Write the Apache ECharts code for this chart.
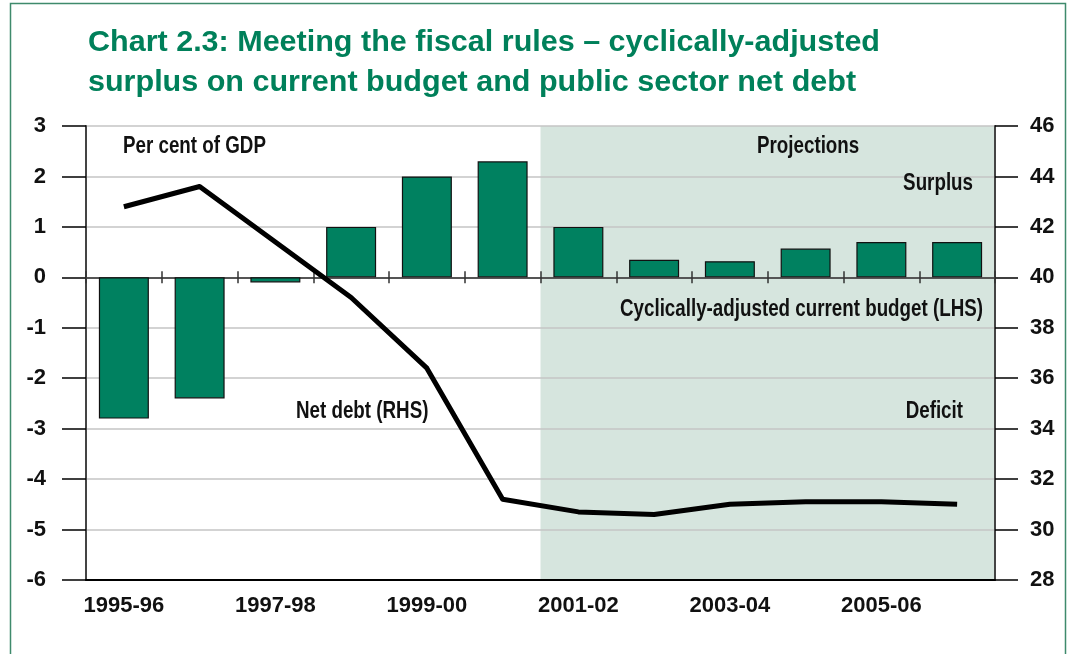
<!DOCTYPE html>
<html>
<head>
<meta charset="utf-8">
<script src="https://cdn.jsdelivr.net/npm/echarts@6/dist/echarts.min.js"></script>
<style>
  html, body { margin: 0; padding: 0; background: #ffffff; }
  #chart { width: 1073px; height: 654px; }
</style>
</head>
<body>
<div id="chart"></div>
<script>
// Fiscal years shown on the category axis
const years = ['1995-96', '1996-97', '1997-98', '1998-99', '1999-00', '2000-01',
               '2001-02', '2002-03', '2003-04', '2004-05', '2005-06', '2006-07'];

// Cyclically-adjusted surplus on current budget, per cent of GDP (left axis)
const currentBudget = [-2.8, -2.4, -0.1, 1.0, 2.0, 2.3, 1.0, 0.35, 0.32, 0.57, 0.7, 0.7];

// Public sector net debt, per cent of GDP (right axis)
const netDebt = [42.8, 43.6, 41.4, 39.2, 36.4, 31.2, 30.7, 30.6, 31.0, 31.1, 31.1, 31.0];

// Axis tick values
const lhsTicks = [-6, -5, -4, -3, -2, -1, 0, 1, 2, 3];
const rhsTicks = [28, 30, 32, 34, 36, 38, 40, 42, 44, 46];

// First year of the projection period (shaded)
const projectionStart = '2001-02';

const FONT = '"Liberation Sans", Arial, sans-serif';
const GREEN = '#00805a';
const INK = '#111111';

const TITLE_FONT = 'bold 30px ' + FONT;
const NOTE_FONT = 'bold 23px ' + FONT;
const titleLines = [
  'Chart 2.3: Meeting the fiscal rules \u2013 cyclically-adjusted',
  'surplus on current budget and public sector net debt'
];

// The headings are set in a condensed face; squeeze the regular face horizontally to suit.
const measureCtx = document.createElement('canvas').getContext('2d');
function textWidth(text, font) {
  measureCtx.font = font;
  return measureCtx.measureText(text).width;
}
const titleSqueeze = 792 / textWidth(titleLines[0], TITLE_FONT);
const noteSqueeze = 363 / textWidth('Cyclically-adjusted current budget (LHS)', NOTE_FONT);

const chart = echarts.init(document.getElementById('chart'), null, { renderer: 'canvas' });

const startIdx = years.indexOf(projectionStart);

function label(text, x, y, font, fill, squeeze, align) {
  return {
    type: 'text',
    silent: true,
    z: 50,
    x: x,
    y: y,
    scaleX: squeeze,
    style: {
      x: 0, y: 0,
      text: text,
      font: font,
      fill: fill,
      textAlign: align || 'left',
      textVerticalAlign: 'middle'
    }
  };
}

function note(text, x, y, align) {
  return label(text, x, y, NOTE_FONT, INK, noteSqueeze, align);
}

const zeroAxisBase = {
  type: 'category',
  data: years,
  position: 'bottom',
  boundaryGap: true,
  axisLine: { show: true, onZero: true, onZeroAxisIndex: 0, lineStyle: { color: '#555555', width: 2 } },
  axisLabel: { show: false },
  splitLine: { show: false }
};

const option = {
  backgroundColor: '#ffffff',
  animation: false,
  textStyle: { fontFamily: FONT },
  grid: { left: 86, right: 78, top: 126, bottom: 74, containLabel: false },
  xAxis: [
    {
      type: 'category',
      data: years,
      position: 'bottom',
      boundaryGap: true,
      axisLine: { show: true, onZero: false, lineStyle: { color: '#000000', width: 2 } },
      axisTick: { show: false },
      axisLabel: {
        interval: 1,
        color: INK,
        fontFamily: FONT,
        fontSize: 22,
        fontWeight: 'bold',
        margin: 15
      },
      splitLine: { show: false }
    },
    Object.assign({}, zeroAxisBase, {
      axisTick: { show: true, interval: 0, inside: false, length: 6, lineStyle: { color: '#333333', width: 1.5 } }
    }),
    Object.assign({}, zeroAxisBase, {
      axisTick: { show: true, interval: 0, inside: true, length: 6, lineStyle: { color: '#333333', width: 1.5 } }
    }),
    {
      // plain index scale spanning the category bands, used for the projection shading
      type: 'value',
      show: false,
      min: 0,
      max: years.length
    }
  ],
  yAxis: [
    {
      type: 'value',
      position: 'left',
      min: lhsTicks[0],
      max: lhsTicks[lhsTicks.length - 1],
      interval: lhsTicks[1] - lhsTicks[0],
      axisLine: { show: true, lineStyle: { color: '#444444', width: 2 } },
      axisTick: { show: true, length: 24, lineStyle: { color: '#000000', width: 1.5 } },
      axisLabel: { color: INK, fontFamily: FONT, fontSize: 22, fontWeight: 'bold', margin: 40 },
      splitLine: { show: true, lineStyle: { color: '#c4c4c4', width: 1.5 } }
    },
    {
      type: 'value',
      position: 'right',
      min: rhsTicks[0],
      max: rhsTicks[rhsTicks.length - 1],
      interval: rhsTicks[1] - rhsTicks[0],
      axisLine: { show: true, lineStyle: { color: '#444444', width: 2 } },
      axisTick: { show: true, length: 23, lineStyle: { color: '#000000', width: 1.5 } },
      axisLabel: { color: INK, fontFamily: FONT, fontSize: 22, fontWeight: 'bold', margin: 35 },
      splitLine: { show: false }
    }
  ],
  series: [
    {
      name: 'Projections',
      type: 'line',
      xAxisIndex: 3,
      yAxisIndex: 0,
      z: -1,
      data: [],
      silent: true,
      markArea: {
        silent: true,
        z: -1,
        itemStyle: { color: 'rgba(50, 125, 90, 0.2)' },
        data: [[{ xAxis: startIdx }, { xAxis: years.length }]]
      }
    },
    {
      name: 'Cyclically-adjusted current budget (LHS)',
      type: 'bar',
      xAxisIndex: 0,
      yAxisIndex: 0,
      data: currentBudget,
      barWidth: '66%',
      itemStyle: { color: '#008160', borderColor: '#111111', borderWidth: 1.2 },
      z: 3
    },
    {
      name: 'Net debt (RHS)',
      type: 'line',
      xAxisIndex: 0,
      yAxisIndex: 1,
      data: netDebt,
      symbol: 'none',
      lineStyle: { color: '#000000', width: 5, join: 'round' },
      z: 4
    }
  ],
  graphic: [
    {
      type: 'rect',
      silent: true,
      z: 0,
      shape: { x: 10.5, y: 3.5, width: 1055, height: 700 },
      style: { fill: null, stroke: '#3f8a6c', lineWidth: 1.5 }
    },
    label(titleLines[0], 88, 42.5, TITLE_FONT, GREEN, titleSqueeze),
    label(titleLines[1], 88, 82.5, TITLE_FONT, GREEN, titleSqueeze),
    note('Per cent of GDP', 123, 146.5),
    note('Projections', 757, 146.5),
    note('Surplus', 973, 184, 'right'),
    note('Cyclically-adjusted current budget (LHS)', 983, 310, 'right'),
    note('Net debt (RHS)', 296, 412),
    note('Deficit', 963, 412, 'right')
  ]
};

chart.setOption(option);
</script>
</body>
</html>
